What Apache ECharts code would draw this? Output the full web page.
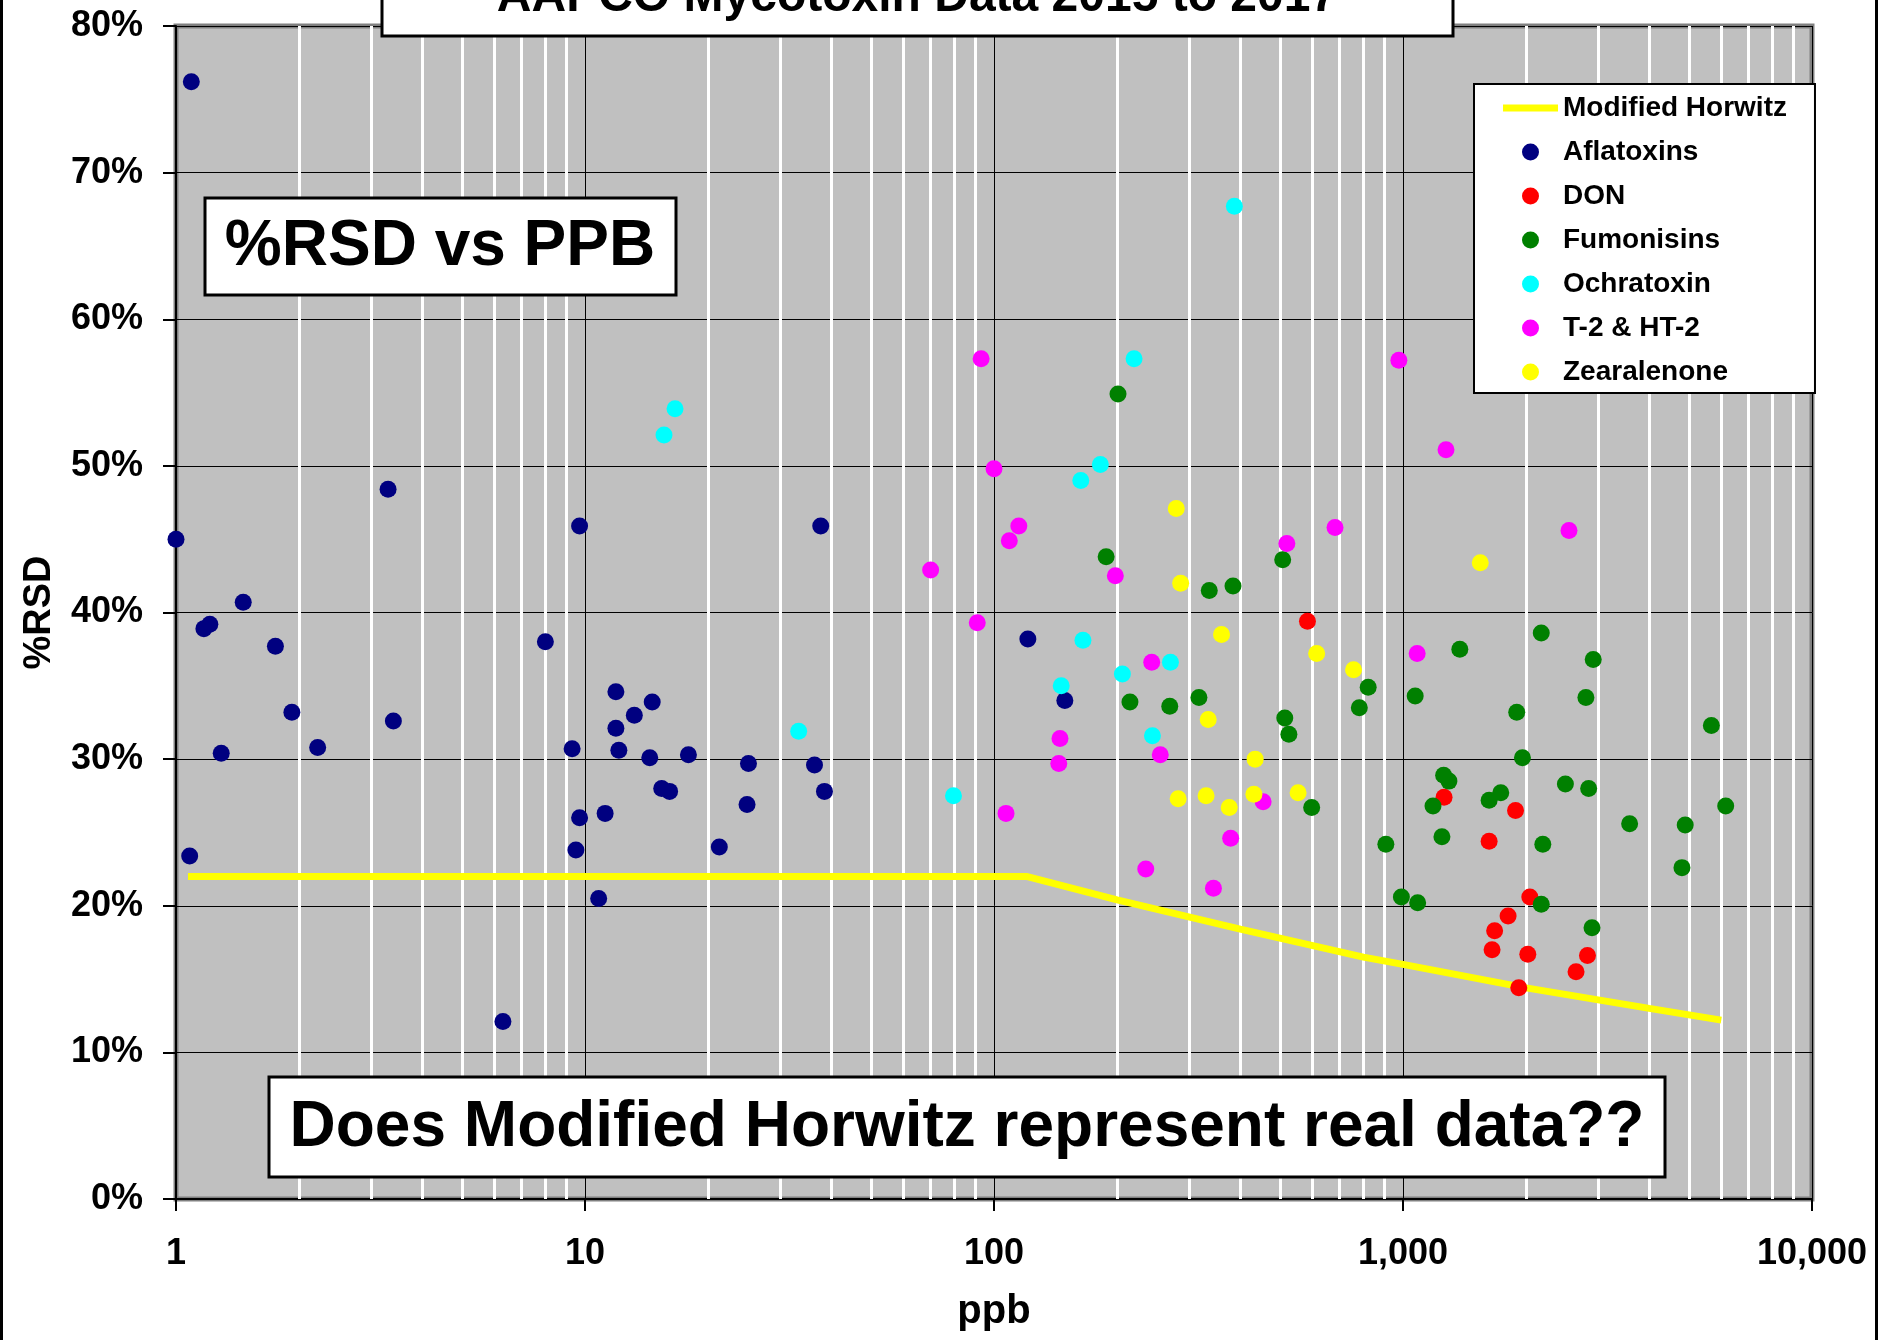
<!DOCTYPE html>
<html>
<head>
<meta charset="utf-8">
<script src="https://cdn.jsdelivr.net/npm/echarts/dist/echarts.min.js"></script>
<style>
  html, body { margin: 0; padding: 0; background: #fff; }
  #chart { width: 1881px; height: 1340px; }
</style>
</head>
<body>
<div id="chart"></div>
<script>
// %RSD vs ppb: [ppb, %RSD]
const horwitz = [[1.07, 22], [120, 22], [200, 20.4], [400, 18.4], [800, 16.5], [1000, 16.0], [2000, 14.4], [4000, 13.0], [6000, 12.2]];
const aflatoxins = [
  [1.0, 45.0], [1.09, 76.2], [1.08, 23.4], [1.17, 38.9], [1.21, 39.2], [1.29, 30.4], [1.46, 40.7],
  [1.75, 37.7], [1.92, 33.2], [2.22, 30.8], [3.3, 48.4], [3.4, 32.6], [6.3, 12.1], [8.0, 38.0],
  [9.3, 30.7], [9.5, 23.8], [9.7, 45.9], [9.7, 26.0], [10.8, 20.5], [11.2, 26.3], [11.9, 34.6],
  [11.9, 32.1], [12.1, 30.6], [13.2, 33.0], [14.4, 30.1], [14.6, 33.9], [15.4, 28.0], [16.1, 27.8],
  [17.9, 30.3], [21.3, 24.0], [24.9, 26.9], [25.1, 29.7], [36.4, 29.6], [37.7, 45.9], [38.5, 27.8],
  [121, 38.2], [149, 34.0]
];
const don = [
  [584, 39.4], [1260, 27.4], [1624, 24.4], [1651, 17.0], [1675, 18.3], [1807, 19.3],
  [1884, 26.5], [1919, 14.4], [2019, 16.7], [2042, 20.6], [2649, 15.5], [2825, 16.6]
];
const fumonisins = [
  [188, 43.8], [201, 54.9], [215, 33.9], [269, 33.6], [317, 34.2], [336, 41.5], [384, 41.8],
  [508, 43.6], [514, 32.8], [526, 31.7], [598, 26.7], [782, 33.5], [822, 34.9], [908, 24.2],
  [991, 20.6], [1071, 34.3], [1086, 20.2], [1184, 26.8], [1245, 24.7], [1257, 28.9], [1295, 28.5],
  [1377, 37.5], [1624, 27.2], [1734, 27.7], [1897, 33.2], [1959, 30.1], [2178, 38.6], [2178, 20.1],
  [2197, 24.2], [2495, 28.3], [2800, 34.2], [2844, 28.0], [2898, 18.5], [2918, 36.8], [3582, 25.6],
  [4809, 22.6], [4898, 25.5], [5675, 32.3], [6152, 26.8]
];
const ochratoxin = [
  [15.6, 52.1], [16.6, 53.9], [33.3, 31.9], [79.6, 27.5], [146, 35.0], [163, 49.0], [165, 38.1],
  [182, 50.1], [206, 35.8], [220, 57.3], [244, 31.6], [270, 36.6], [387, 67.7]
];
const t2ht2 = [
  [70, 42.9], [91, 39.3], [93, 57.3], [100, 49.8], [107, 26.3], [109, 44.9], [115, 45.9],
  [144, 29.7], [145, 31.4], [198, 42.5], [235, 22.5], [243, 36.6], [255, 30.3], [344, 21.2],
  [379, 24.6], [455, 27.1], [520, 44.7], [682, 45.8], [977, 57.2], [1083, 37.2], [1274, 51.1], [2546, 45.6]
];
const zearalenone = [
  [279, 47.1], [282, 27.3], [286, 42.0], [330, 27.5], [334, 32.7], [360, 38.5], [376, 26.7],
  [432, 27.6], [435, 30.0], [554, 27.7], [615, 37.2], [757, 36.1], [1545, 43.4]
];
// minor (white) gridlines of the log axis
const minorPpb = [2, 3, 4, 5, 6, 7, 8, 9, 20, 30, 40, 50, 60, 70, 80, 90,
  200, 300, 400, 500, 600, 700, 800, 900, 2000, 3000, 4000, 5000, 6000, 7000, 8000, 9000];
const legendNames = ["Aflatoxins", "DON", "Fumonisins", "Ochratoxin", "T-2 & HT-2", "Zearalenone"];

const FONT = "Liberation Sans, Arial, sans-serif";

function scatter(name, data, color) {
  return {
    name: name,
    type: "scatter",
    data: data,
    symbol: "circle",
    symbolSize: 17,
    itemStyle: { color: color, opacity: 1 },
    z: 3
  };
}

function box(x, y, w, h, cx, cy, text, size) {
  return [
    {
      type: "rect", z: 100, silent: true,
      shape: { x: x, y: y, width: w, height: h },
      style: { fill: "#fff", stroke: "#000", lineWidth: 3 }
    },
    {
      type: "text", z: 101, silent: true, x: cx, y: cy,
      style: {
        text: text, fill: "#000", font: "bold " + size + "px " + FONT,
        align: "center", verticalAlign: "middle"
      }
    }
  ];
}

const option = {
  animation: false,
  backgroundColor: "#fff",
  textStyle: { fontFamily: FONT },
  grid: {
    left: 176, right: 69, top: 26, bottom: 141,
    show: true, backgroundColor: "#c0c0c0", borderColor: "#808080", borderWidth: 5,
    outerBoundsMode: "none"
  },
  legend: {
    data: [{ name: "Modified Horwitz", icon: "path://M0,0H55V7H0Z" }].concat(legendNames),
    orient: "vertical",
    left: 1474, top: 84,
    padding: [10, 28, 7, 29],
    itemWidth: 55, itemHeight: 17, itemGap: 16,
    backgroundColor: "#fff", borderColor: "#000", borderWidth: 2,
    textStyle: { fontSize: 28, fontWeight: "bold", color: "#000", fontFamily: FONT },
    selectedMode: false
  },
  xAxis: {
    type: "log", logBase: 10, min: 1, max: 10000,
    name: "ppb", nameLocation: "middle", nameGap: 93,
    nameTextStyle: { fontSize: 40, fontWeight: "bold", color: "#000", fontFamily: FONT },
    axisLine: { show: true, lineStyle: { color: "#000", width: 2 } },
    axisTick: { show: true, inside: false, length: 12, lineStyle: { color: "#000", width: 2 } },
    axisLabel: {
      fontSize: 36, fontWeight: "bold", color: "#000", margin: 37, fontFamily: FONT,
      formatter: (v) => Number(v).toLocaleString("en-US")
    },
    splitLine: { show: true, lineStyle: { color: "#000", width: 1 } }
  },
  yAxis: {
    type: "value", min: 0, max: 80, interval: 10,
    name: "%RSD", nameLocation: "middle", nameGap: 117, nameRotate: 90,
    nameTextStyle: { fontSize: 38, fontWeight: "bold", color: "#000", fontFamily: FONT },
    axisLine: { show: true, lineStyle: { color: "#000", width: 2 } },
    axisTick: { show: true, inside: false, length: 13, lineStyle: { color: "#000", width: 2 } },
    axisLabel: {
      fontSize: 36, fontWeight: "bold", color: "#000", margin: 33, fontFamily: FONT,
      formatter: "{value}%"
    },
    splitLine: { show: true, lineStyle: { color: "#000", width: 1 } }
  },
  series: [
    {
      name: "Modified Horwitz",
      type: "line",
      data: horwitz,
      symbol: "none",
      lineStyle: { color: "#ffff00", width: 7 },
      itemStyle: { color: "#ffff00" },
      z: 2,
      markLine: {
        silent: true, z: 1, symbol: "none", animation: false,
        label: { show: false },
        lineStyle: { color: "#fff", width: 3, type: "solid" },
        data: minorPpb.map((v) => ({ xAxis: v }))
      }
    },
    scatter("Aflatoxins", aflatoxins, "#000080"),
    scatter("DON", don, "#ff0000"),
    scatter("Fumonisins", fumonisins, "#008000"),
    scatter("Ochratoxin", ochratoxin, "#00ffff"),
    scatter("T-2 & HT-2", t2ht2, "#ff00ff"),
    scatter("Zearalenone", zearalenone, "#ffff00")
  ],
  graphic: [
    ...box(382, -10, 1071, 46, 917, -2, "AAPCO Mycotoxin Data 2015 to 2017", 48),
    ...box(205, 198, 471, 97, 440, 247, "%RSD vs PPB", 64),
    ...box(269, 1077, 1396, 100, 967, 1128, "Does Modified Horwitz represent real data??", 64),
    { type: "rect", z: 100, silent: true, shape: { x: 0, y: 0, width: 3, height: 1340 }, style: { fill: "#000" } },
    { type: "rect", z: 100, silent: true, shape: { x: 1875, y: 0, width: 3, height: 1340 }, style: { fill: "#000" } }
  ]
};

const myChart = echarts.init(document.getElementById("chart"));
myChart.setOption(option);
</script>
</body>
</html>
